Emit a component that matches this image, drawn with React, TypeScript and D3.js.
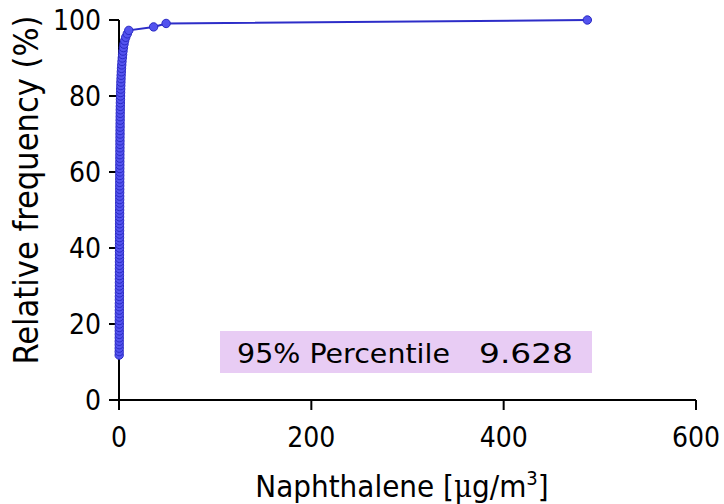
import React from 'react';
import { scaleLinear, line } from 'd3';

// cumulative relative frequency (%) and naphthalene concentration (µg/m³)
const relFreq = [
  11.82, 12.73, 13.64, 14.55, 15.45, 16.36, 17.27, 18.18, 19.09, 20.0,
  20.91, 21.82, 22.73, 23.64, 24.55, 25.45, 26.36, 27.27, 28.18, 29.09,
  30.0, 30.91, 31.82, 32.73, 33.64, 34.55, 35.45, 36.36, 37.27, 38.18,
  39.09, 40.0, 40.91, 41.82, 42.73, 43.64, 44.55, 45.45, 46.36, 47.27,
  48.18, 49.09, 50.0, 50.91, 51.82, 52.73, 53.64, 54.55, 55.45, 56.36,
  57.27, 58.18, 59.09, 60.0, 60.91, 61.82, 62.73, 63.64, 64.55, 65.45,
  66.36, 67.27, 68.18, 69.09, 70.0, 70.91, 71.82, 72.73, 73.64, 74.55,
  75.45, 76.36, 77.27, 78.18, 79.09, 80.0, 80.91, 81.82, 82.73, 83.64,
  84.55, 85.45, 86.36, 87.27, 88.18, 89.09, 90.0, 90.91, 91.82, 92.73,
  93.64, 94.55, 95.45, 96.36, 97.27, 98.18, 99.09, 100.0,
];
const conc = [
  0.2, 0.22, 0.24, 0.25, 0.26, 0.28, 0.29, 0.3, 0.31, 0.32,
  0.33, 0.34, 0.35, 0.36, 0.37, 0.38, 0.39, 0.4, 0.41, 0.42,
  0.43, 0.44, 0.45, 0.46, 0.47, 0.48, 0.49, 0.5, 0.51, 0.52,
  0.53, 0.54, 0.55, 0.56, 0.57, 0.58, 0.59, 0.6, 0.61, 0.62,
  0.63, 0.64, 0.66, 0.67, 0.68, 0.7, 0.71, 0.72, 0.74, 0.75,
  0.77, 0.78, 0.8, 0.82, 0.83, 0.85, 0.87, 0.89, 0.91, 0.93,
  0.95, 0.98, 1.0, 1.03, 1.06, 1.09, 1.12, 1.15, 1.19, 1.23,
  1.27, 1.32, 1.37, 1.43, 1.5, 1.58, 1.66, 1.75, 1.85, 1.96,
  2.1, 2.25, 2.42, 2.6, 2.85, 3.1, 3.4, 3.75, 4.15, 4.6,
  5.2, 5.9, 7.0, 8.6, 10.2, 36.0, 49.0, 487.0,
];

const xTicks = [0, 200, 400, 600];
const yTicks = [0, 20, 40, 60, 80, 100];
const percentileLabel = '95% Percentile';
const percentileValue = '9.628';

const font = "'DejaVu Sans', Verdana, sans-serif";

export default function App() {
  const width = 724;
  const height = 504;

  const x = scaleLinear().domain([0, 600]).range([119, 696]);
  const y = scaleLinear().domain([0, 100]).range([400, 20]);

  const pts = conc.map((c, i) => [c, relFreq[i]] as [number, number]);
  const path = line<[number, number]>()
    .x(d => x(d[0]))
    .y(d => y(d[1]))(pts);

  const tickLen = 10;

  return (
    <svg width={width} height={height} viewBox={`0 0 ${width} ${height}`}
      style={{ position: 'absolute', left: 0, top: 0, background: '#fff' }}>
      {/* percentile box */}
      <rect x={220} y={331} width={372} height={42} fill="#e8ccf4" />
      <text x={237} y={363} fontFamily={font} fontSize={27} fill="#000"
        textLength={213} lengthAdjust="spacingAndGlyphs">{percentileLabel}</text>
      <text x={479} y={363} fontFamily={font} fontSize={27} fill="#000"
        textLength={94} lengthAdjust="spacingAndGlyphs">{percentileValue}</text>

      {/* axes */}
      <g stroke="#000" strokeWidth={2} fill="none">
        <line x1={x(0)} x2={x(0)} y1={y(100)} y2={y(0)} />
        <line x1={x(0)} x2={x(600)} y1={y(0)} y2={y(0)} />
        {yTicks.map(t => (
          <line key={'yt' + t} x1={x(0) - tickLen} x2={x(0)} y1={y(t)} y2={y(t)} />
        ))}
        {xTicks.map(t => (
          <line key={'xt' + t} x1={x(t)} x2={x(t)} y1={y(0)} y2={y(0) + tickLen} />
        ))}
      </g>
      {yTicks.map(t => (
        <text key={'yl' + t} x={x(0) - 18} y={y(t)} dy="0.36em" textAnchor="end"
          fontFamily={font} fontStretch="condensed" fontSize={28} fill="#000">{t}</text>
      ))}
      {xTicks.map(t => (
        <text key={'xl' + t} x={x(t)} y={447} textAnchor="middle"
          fontFamily={font} fontStretch="condensed" fontSize={28} fill="#000">{t}</text>
      ))}

      {/* axis titles */}
      <text x={402} y={497} textAnchor="middle" fontFamily={font} fontStretch="condensed" fontSize={31} fill="#000">
        Naphthalene [<tspan fontFamily="'DejaVu Serif', serif">μ</tspan>g/m<tspan dy={-12} fontSize={20}>3</tspan><tspan dy={12}>]</tspan>
      </text>
      <text transform="translate(38,190) rotate(-90)" textAnchor="middle" fontFamily={font} fontStretch="condensed" fontSize={34} fill="#000">
        Relative frequency (%)
      </text>

      {/* series */}
      <path d={path ?? ''} fill="none" stroke="#2d2dc8" strokeWidth={2} />
      {pts.map((d, i) => (
        <circle key={i} cx={x(d[0])} cy={y(d[1])} r={4.2} fill="#5353ee" stroke="#2a2ac4" strokeWidth={1} />
      ))}
    </svg>
  );
}
